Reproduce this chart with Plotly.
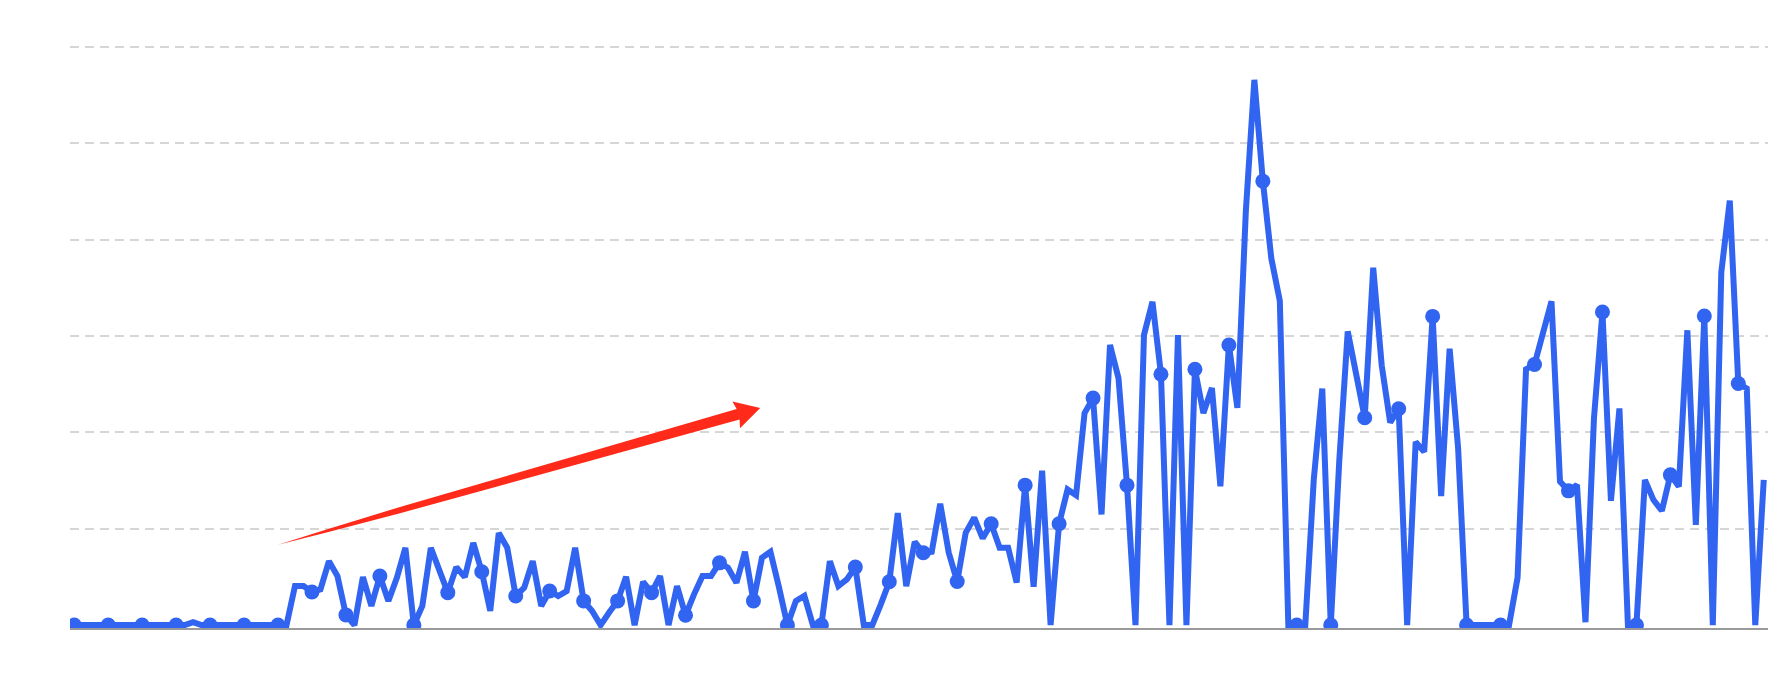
import math
import plotly.graph_objects as go

# ---- data (gridlines every 100) ----
values = [
    0, 0, 0, 0, 0, 0, 0, 0, 0, 0,
    0, 0, 0, 0, 3, 0, 0, 0, 0, 0,
    0, 0, 0, 0, 0, 0, 40.6, 40.6, 34.4, 37,
    66.4, 50.9, 10.6, 0, 49.8, 19.9, 50.9, 25.1, 49.1, 80.2,
    0, 19.9, 80.2, 56.1, 33.7, 60.2, 49.8, 85.3, 55.4, 14.7,
    95.6, 80.2, 30.2, 38.8, 66.4, 19.9, 35.4, 30.2, 35.4, 80.2,
    25.1, 14.7, 0, 13, 25.1, 50.2, 0, 45, 33.7, 50.9,
    0, 40.5, 10.2, 31.9, 50.9, 50.9, 64.6, 59.5, 44, 76,
    25.1, 69.8, 76, 39.5, 0, 25.1, 30.3, 0, 0, 66.4,
    40.5, 47.4, 60.2, 0, 0, 21.6, 45, 116.3, 40.5, 86.3,
    75, 76, 126, 75.2, 45.2, 95.9, 111.4, 90, 105.2, 80.3,
    80.3, 44.1, 145.2, 39.7, 160.3, 0, 105.2, 140.7, 134.8, 220,
    235.5, 114.8, 290.7, 256.2, 145.2, 0, 301, 335.5, 260.3, 0,
    301, 0, 265.5, 220, 245.9, 144, 290.6, 225.5, 430, 565.7,
    460.6, 380.4, 336.4, 0, 0, 0, 151, 245.4, 0, 170,
    304.7, 260, 215.2, 370.8, 269.5, 210.2, 224.4, 0, 190, 179.7,
    320.3, 133.8, 286.7, 183.5, 0, 0, 0, 0, 0, 0,
    49, 265.5, 270.3, 304, 335.9, 149, 139.3, 145.5, 3, 214.5,
    324.8, 129, 224.8, 0, 0, 150.7, 130, 118.6, 155.9, 143.8,
    305.9, 104.1, 320.7, 0, 366.2, 440.3, 250.7, 245.5, 0, 150.7,
]
positions = list(range(len(values)))
marker_step = 4
grid_values = [100, 200, 300, 400, 500, 600]

# arrow annotation endpoints (data coordinates)
arrow_tail = (24.0, 83.4)
arrow_tip = (80.8, 225.2)

# ---- layout geometry (page body has an 8px margin) ----
W, H = 1775, 659
Y_RANGE = [-3, 606]
X_RANGE = [-0.5, len(values) - 0.5]
ML, MR, MB = 62, 15, 39.4
MT = 37.5 - (Y_RANGE[1] - 601) * 0.96368

BLUE = "#3164f0"

fig = go.Figure()

sizes = [15 if i % marker_step == 0 else 0 for i in positions]
fig.add_trace(go.Scatter(
    x=positions, y=values, mode="lines+markers",
    line=dict(color=BLUE, width=6),
    marker=dict(color=BLUE, size=sizes, opacity=1, line=dict(width=0)),
    hoverinfo="skip", showlegend=False,
))

# ---- tapered red arrow, built around tail -> tip in data coords ----
pw = W - ML - MR
ph = H - MT - MB
px_x = pw / (X_RANGE[1] - X_RANGE[0])
px_y = ph / (Y_RANGE[1] - Y_RANGE[0])

tx, ty = arrow_tail[0] * px_x, -arrow_tail[1] * px_y
hx, hy = arrow_tip[0] * px_x, -arrow_tip[1] * px_y
L = math.hypot(hx - tx, hy - ty)
ux, uy = (hx - tx) / L, (hy - ty) / L
nx, ny = -uy, ux  # perpendicular


def pt(s, w):
    """point at distance s along the arrow, offset w perpendicular (pixels)"""
    px = tx + ux * s + nx * w
    py = ty + uy * s + ny * w
    return px / px_x, -py / px_y


head_len = 24
head_half = 14
shaft_profile = [(0, 0), (50, 1.4), (125, 3.0), (330, 4.4), (L - head_len + 1, 5.4)]
upper = [pt(s, -w) for s, w in shaft_profile]
lower = [pt(s, w) for s, w in reversed(shaft_profile)]
head = [pt(L - head_len - 1, -head_half), pt(L, 0), pt(L - head_len - 1, head_half)]
poly = upper + head + lower
path = "M " + " L ".join(f"{x:.4f},{y:.4f}" for x, y in poly) + " Z"
fig.add_shape(type="path", path=path, xref="x", yref="y",
              fillcolor="#ff2a1a", line=dict(width=0), layer="above")

fig.update_layout(
    width=W, height=H,
    margin=dict(l=ML, r=MR, t=MT, b=MB, pad=0),
    paper_bgcolor="white", plot_bgcolor="white",
    xaxis=dict(range=X_RANGE, showgrid=False, zeroline=False,
               showline=True, linecolor="#9a9a9a", linewidth=1.5,
               showticklabels=False, ticks="", fixedrange=True),
    yaxis=dict(range=Y_RANGE, tickmode="array", tickvals=grid_values,
               showgrid=True, gridcolor="#d6d6d6", gridwidth=1.5,
               griddash="9px,6px", zeroline=False, showline=False,
               showticklabels=False, ticks="", fixedrange=True),
)

fig.write_html("out.html")
